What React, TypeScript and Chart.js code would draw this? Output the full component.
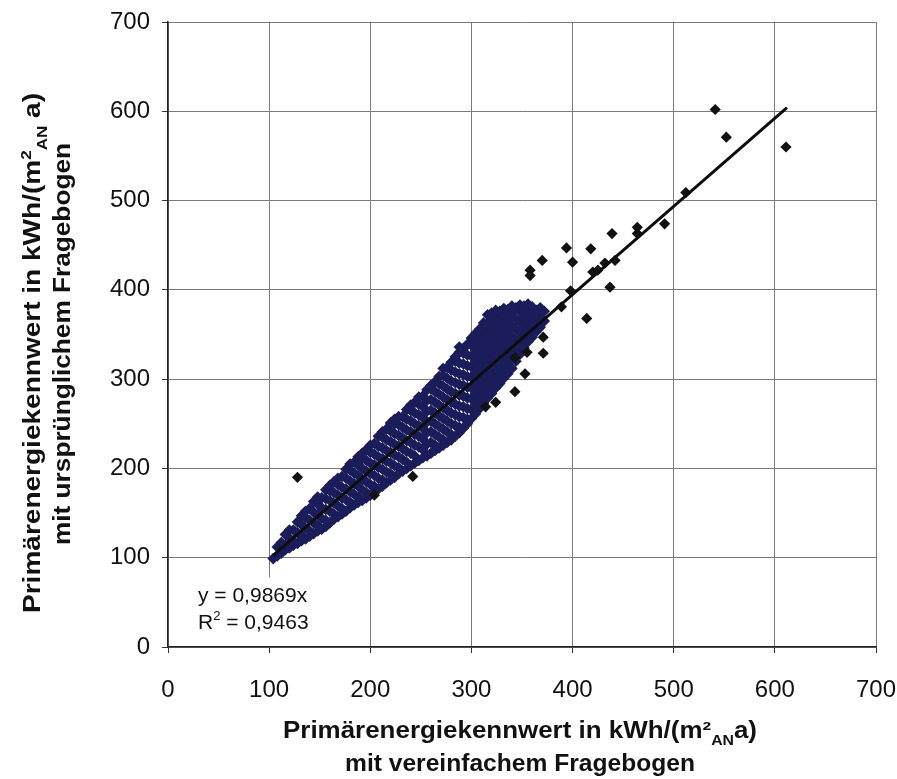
import React, { useEffect, useRef } from 'react';
import { Chart, registerables } from 'chart.js';

Chart.register(...registerables);

// ---- data ----
const AXIS_MIN = 0;
const AXIS_MAX = 700;
const AXIS_STEP = 100;
const xTickLabels = ['0', '100', '200', '300', '400', '500', '600', '700'];
const yTickLabels = ['0', '100', '200', '300', '400', '500', '600', '700'];

// dense cluster, grouped by simplified-questionnaire value:
// [x value, y values of the buildings read at that x]
const clusterColumns: [number, number[]][] = [
  [104, [99]],
  [108, [102, 112]],
  [112, [105, 117]],
  [116, [109, 114, 126]],
  [120, [111, 122, 131]],
  [124, [114, 119, 131]],
  [128, [116, 128, 140]],
  [132, [119, 125, 137, 147]],
  [136, [121, 133, 145, 152]],
  [140, [124, 130, 142, 155]],
  [144, [127, 139, 151, 163]],
  [148, [130, 136, 148, 160, 168]],
  [152, [132, 144, 156, 167]],
  [156, [135, 142, 154, 166, 176]],
  [160, [139, 152, 164, 175, 181]],
  [164, [143, 149, 161, 173, 185]],
  [168, [146, 158, 170, 182, 189]],
  [172, [149, 155, 167, 179, 191]],
  [176, [152, 165, 177, 189, 199]],
  [180, [156, 162, 174, 186, 198, 205]],
  [184, [159, 171, 183, 195, 207]],
  [188, [162, 168, 180, 192, 204, 213]],
  [192, [164, 176, 188, 200, 211, 217]],
  [196, [167, 173, 185, 197, 209, 221]],
  [200, [170, 182, 194, 206, 218, 226]],
  [204, [174, 180, 192, 204, 216, 228]],
  [208, [177, 189, 201, 213, 225, 236]],
  [212, [180, 187, 199, 211, 223, 235, 241]],
  [216, [184, 196, 208, 220, 232, 244]],
  [220, [187, 194, 206, 218, 230, 242, 251]],
  [224, [190, 203, 215, 227, 239, 250, 255]],
  [228, [194, 201, 213, 225, 237, 249, 258]],
  [232, [197, 210, 222, 234, 246, 258]],
  [236, [200, 207, 219, 231, 243, 255, 266]],
  [240, [203, 217, 229, 241, 253, 265, 271]],
  [244, [206, 214, 226, 238, 250, 262, 274]],
  [248, [209, 224, 236, 248, 260, 272, 280]],
  [252, [212, 221, 233, 245, 257, 269, 281]],
  [256, [214, 227, 240, 252, 264, 276, 288]],
  [260, [217, 229, 241, 253, 265, 277, 289, 293]],
  [264, [220, 226, 238, 250, 262, 274, 286, 297]],
  [268, [223, 235, 247, 259, 271, 283, 295, 303]],
  [272, [226, 232, 244, 256, 268, 280, 292, 304, 312]],
  [276, [229, 241, 253, 265, 277, 289, 301, 313]],
  [280, [232, 238, 250, 262, 274, 286, 298, 310, 319]],
  [284, [236, 248, 260, 272, 284, 296, 308, 320, 325]],
  [288, [240, 246, 258, 270, 282, 294, 306, 318, 330, 336]],
  [292, [245, 257, 269, 281, 293, 305, 317, 329, 334]],
  [296, [250, 255, 267, 279, 291, 303, 315, 327, 339]],
  [300, [256, 266, 278, 290, 302, 314, 326, 338, 346]],
  [304, [261, 272, 284, 296, 308, 320, 332, 344, 351]],
  [308, [267, 279, 291, 303, 315, 327, 339, 351, 356]],
  [312, [273, 285, 297, 309, 321, 333, 345, 357, 363]],
  [316, [279, 290, 302, 314, 326, 338, 350, 362, 372]],
  [320, [284, 296, 308, 320, 332, 344, 356, 368, 374]],
  [324, [290, 302, 314, 326, 338, 350, 362, 371, 377]],
  [328, [295, 307, 319, 331, 343, 355, 367, 376]],
  [332, [301, 313, 325, 337, 349, 361, 373, 379]],
  [336, [306, 318, 330, 342, 354, 366, 378]],
  [340, [312, 324, 336, 348, 360, 372, 382]],
  [344, [320, 332, 344, 356, 368, 380]],
  [348, [328, 340, 352, 364, 376, 383]],
  [352, [335, 347, 359, 371, 382]],
  [356, [342, 354, 366, 377, 384]],
  [360, [347, 359, 371, 381]],
  [364, [353, 365, 377]],
  [368, [358, 370, 380]],
  [372, [365, 376]],
];

// scattered outliers (darker diamonds)
const outlierPoints: [number, number][] = [
  [128, 190], [204, 170], [242, 191], [314, 269], [324, 274], [343, 286], [343, 324], [353, 306], [355, 330], [371, 347],
  [371, 329], [358, 422], [358, 416], [370, 433], [389, 381], [394, 447], [398, 399], [400, 431], [414, 368], [418, 446],
  [420, 420], [425, 422], [432, 430], [437, 403], [439, 463], [442, 433], [464, 470], [464, 463], [491, 474], [512, 509],
  [541, 602], [552, 571], [611, 560],
];

const SLOPE = 0.9869;
const R_SQUARED = '0,9463';
const trendRange = [104, 612];

// ---- styling ----
const FONT = "'Liberation Sans', Arial, sans-serif";
const NARROW = "'Liberation Sans Narrow', 'Liberation Sans', Arial, sans-serif";
const NAVY = '#1b1d5a';
const DARK = '#121212';

type Seg = { t: string; s?: 'sub' | 'sup' };

function drawRich(
  ctx: CanvasRenderingContext2D,
  segs: Seg[],
  size: number,
  weight: string,
  family: string,
  cx: number,
  cy: number,
  angle: number,
  align: 'center' | 'left',
  target?: number,
) {
  const small = Math.round(size * 0.62);
  const f = (sz: number) => `${weight} ${sz}px ${family}`;
  let w = 0;
  const widths = segs.map((sg) => {
    ctx.font = f(sg.s ? small : size);
    const m = ctx.measureText(sg.t).width;
    w += m;
    return m;
  });
  const k = target ? target / w : 1;
  ctx.save();
  ctx.translate(cx, cy);
  ctx.rotate(angle);
  ctx.scale(k, 1);
  ctx.textAlign = 'left';
  ctx.textBaseline = 'alphabetic';
  ctx.fillStyle = '#111';
  let px = align === 'center' ? -w / 2 : 0;
  const base = size * 0.36;
  segs.forEach((sg, i) => {
    ctx.font = f(sg.s ? small : size);
    const dy = sg.s === 'sub' ? size * 0.3 : sg.s === 'sup' ? -size * 0.42 : 0;
    ctx.fillText(sg.t, px, base + dy);
    px += widths[i];
  });
  ctx.restore();
}

const xTitle1: Seg[] = [{ t: 'Primärenergiekennwert in kWh/(m²' }, { t: 'AN', s: 'sub' }, { t: 'a)' }];
const xTitle2: Seg[] = [{ t: 'mit vereinfachem Fragebogen' }];
const yTitle1: Seg[] = [{ t: 'Primärenergiekennwert in kWh/(m' }, { t: '2', s: 'sup' }, { t: 'AN', s: 'sub' }, { t: ' a)' }];
const yTitle2: Seg[] = [{ t: 'mit ursprünglichem Fragebogen' }];
const eq1: Seg[] = [{ t: `y = ${SLOPE.toFixed(4).replace('.', ',')}x` }];
const eq2: Seg[] = [{ t: 'R' }, { t: '2', s: 'sup' }, { t: ` = ${R_SQUARED}` }];

const overlayPlugin = {
  id: 'overlay',
  beforeDatasetsDraw(chart: any) {
    const { ctx, scales } = chart;
    const x = scales.x;
    const y = scales.y;
    const l = x.getPixelForValue(0) + 1;
    const r = x.getPixelForValue(196);
    const t = y.getPixelForValue(78);
    const b = y.getPixelForValue(0) - 1;
    ctx.save();
    ctx.fillStyle = '#ffffff';
    ctx.fillRect(l, t, r - l, b - t);
    ctx.restore();
    drawRich(ctx, eq1, 21, 'normal', FONT, l + 29, t + 17, 0, 'left');
    drawRich(ctx, eq2, 21, 'normal', FONT, l + 29, t + 44, 0, 'left');
  },
  afterDraw(chart: any) {
    const { ctx } = chart;
    drawRich(ctx, xTitle1, 23, 'bold', NARROW, 520, 730, 0, 'center', 474);
    drawRich(ctx, xTitle2, 23, 'bold', NARROW, 520, 763, 0, 'center', 350);
    drawRich(ctx, yTitle1, 23, 'bold', NARROW, 32, 353, -Math.PI / 2, 'center', 520);
    drawRich(ctx, yTitle2, 23, 'bold', NARROW, 62, 344, -Math.PI / 2, 'center', 402);
  },
};

export default function App() {
  const ref = useRef<HTMLCanvasElement | null>(null);
  useEffect(() => {
    if (!ref.current) return;
    const clusterData: { x: number; y: number }[] = [];
    clusterColumns.forEach(([xv, ys]) => ys.forEach((yv) => clusterData.push({ x: xv, y: yv })));
    const chart = new Chart(ref.current, {
      type: 'scatter',
      data: {
        datasets: [
          {
            type: 'line',
            data: trendRange.map((v) => ({ x: v, y: v * SLOPE })),
            borderColor: '#0d0d0d',
            borderWidth: 3,
            pointRadius: 0,
            showLine: true,
            fill: false,
            order: 0,
          } as any,
          {
            data: clusterData,
            pointStyle: 'rectRot',
            pointRadius: 5.8,
            backgroundColor: NAVY,
            borderColor: NAVY,
            borderWidth: 0,
            order: 2,
          },
          {
            data: outlierPoints.map((p) => ({ x: p[0], y: p[1] })),
            pointStyle: 'rectRot',
            pointRadius: 5.6,
            backgroundColor: DARK,
            borderColor: DARK,
            borderWidth: 0,
            order: 1,
          },
        ],
      },
      options: {
        responsive: false,
        animation: false,
        events: [],
        devicePixelRatio: 1,
        layout: { padding: { left: 0, top: 22, right: 21, bottom: 0 } },
        plugins: { legend: { display: false }, tooltip: { enabled: false } },
        scales: {
          x: {
            type: 'linear',
            min: AXIS_MIN,
            max: AXIS_MAX,
            afterFit: (s: any) => {
              s.height = 132;
              s.paddingLeft = 0;
              s.paddingRight = 0;
            },
            ticks: {
              stepSize: AXIS_STEP,
              padding: 23,
              color: '#111',
              font: { family: FONT, size: 24 },
              callback: (v: any) => xTickLabels[Math.round(Number(v) / AXIS_STEP)] ?? '',
            },
            grid: { color: '#7a7a7a', lineWidth: 1, tickLength: 6, tickColor: '#333' },
            border: { color: '#222', width: 1.5 },
          },
          y: {
            type: 'linear',
            min: AXIS_MIN,
            max: AXIS_MAX,
            afterFit: (s: any) => {
              s.width = 168;
              s.paddingTop = 0;
              s.paddingBottom = 0;
            },
            ticks: {
              stepSize: AXIS_STEP,
              padding: 12,
              color: '#111',
              font: { family: FONT, size: 24 },
              callback: (v: any) => yTickLabels[Math.round(Number(v) / AXIS_STEP)] ?? '',
            },
            grid: { color: '#7a7a7a', lineWidth: 1, tickLength: 6, tickColor: '#333' },
            border: { color: '#222', width: 1.5 },
          },
        },
      },
      plugins: [overlayPlugin],
    });
    return () => chart.destroy();
  }, []);
  return (
    <div style={{ position: 'absolute', left: 0, top: 0, width: 897, height: 779, background: '#fff' }}>
      <canvas ref={ref} width={897} height={779} style={{ display: 'block', width: 897, height: 779 }} />
    </div>
  );
}
